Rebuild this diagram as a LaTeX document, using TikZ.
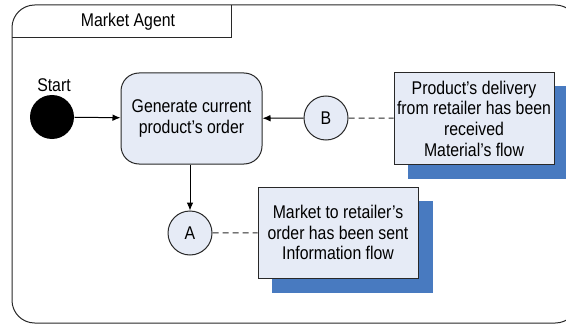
\documentclass[tikz,border=0pt]{standalone}
\usepackage{fontspec}
\setmainfont{Liberation Sans}[FakeStretch=0.86]
\usetikzlibrary{arrows.meta,backgrounds}
\definecolor{boxfill}{RGB}{230,235,246}
\definecolor{shadowblue}{RGB}{72,122,192}
\definecolor{linegray}{RGB}{40,40,40}
\begin{document}
\begin{tikzpicture}[x=0.75pt,y=-0.75pt,
  font=\fontsize{13.8}{15.5}\selectfont,
  line width=0.75pt,
  statebox/.style={draw=linegray, fill=boxfill, rounded corners=13.5pt,
    minimum width=105.75pt, minimum height=68.25pt, align=center, inner sep=0pt},
  notebox/.style={draw=linegray, fill=boxfill,
    minimum width=120pt, minimum height=68.25pt, align=center, inner sep=0pt},
  connector/.style={circle, draw=linegray, fill=boxfill, minimum size=33pt, inner sep=0pt},
  startdot/.style={circle, fill=black, minimum size=33pt, inner sep=0pt},
  flow/.style={draw=black, -{Latex[length=6pt,width=5pt]}},
  link/.style={draw=linegray, dash pattern=on 4.5pt off 3pt}]

\useasboundingbox (0,0) rectangle (566,324);

% agent frame with its title tab
\draw[linegray, rounded corners=17pt] (12,5) rectangle (578,323);
\draw[linegray] (12,38) -- (231,38) -- (231,5);
\node (title) at (128,22) {Market Agent};

% initial state
\node[startdot] (start) at (52,117) {};
\node (startlbl) at (54,85) {Start};

% activity
\node[statebox] (gen) at (191.5,118.5) {Generate current\\product’s order};

% connectors
\node[connector] (B) at (326,118) {B};
\node[connector] (A) at (190,233) {A};

% notes
\node[notebox] (recv) at (474,118.5) {Product’s delivery\\from retailer has been\\received\\Material’s flow};
\node[notebox] (sent) at (338,232.5) {Market to retailer’s\\order has been sent\\Information flow};

\begin{scope}[on background layer]
  \fill[shadowblue] ([shift={(14,14)}]recv.south west) rectangle ([shift={(14,14)}]recv.north east);
  \fill[shadowblue] ([shift={(14.5,14.5)}]sent.south west) rectangle ([shift={(14.5,14.5)}]sent.north east);
\end{scope}

% transitions
\draw[flow] (start) -- (gen);
\draw[flow] (B) -- (gen);
\draw[flow] (gen.south -| A) -- (A);

% note links
\draw[link] (B) -- (recv);
\draw[link] (A) -- (sent);
\end{tikzpicture}
\end{document}
